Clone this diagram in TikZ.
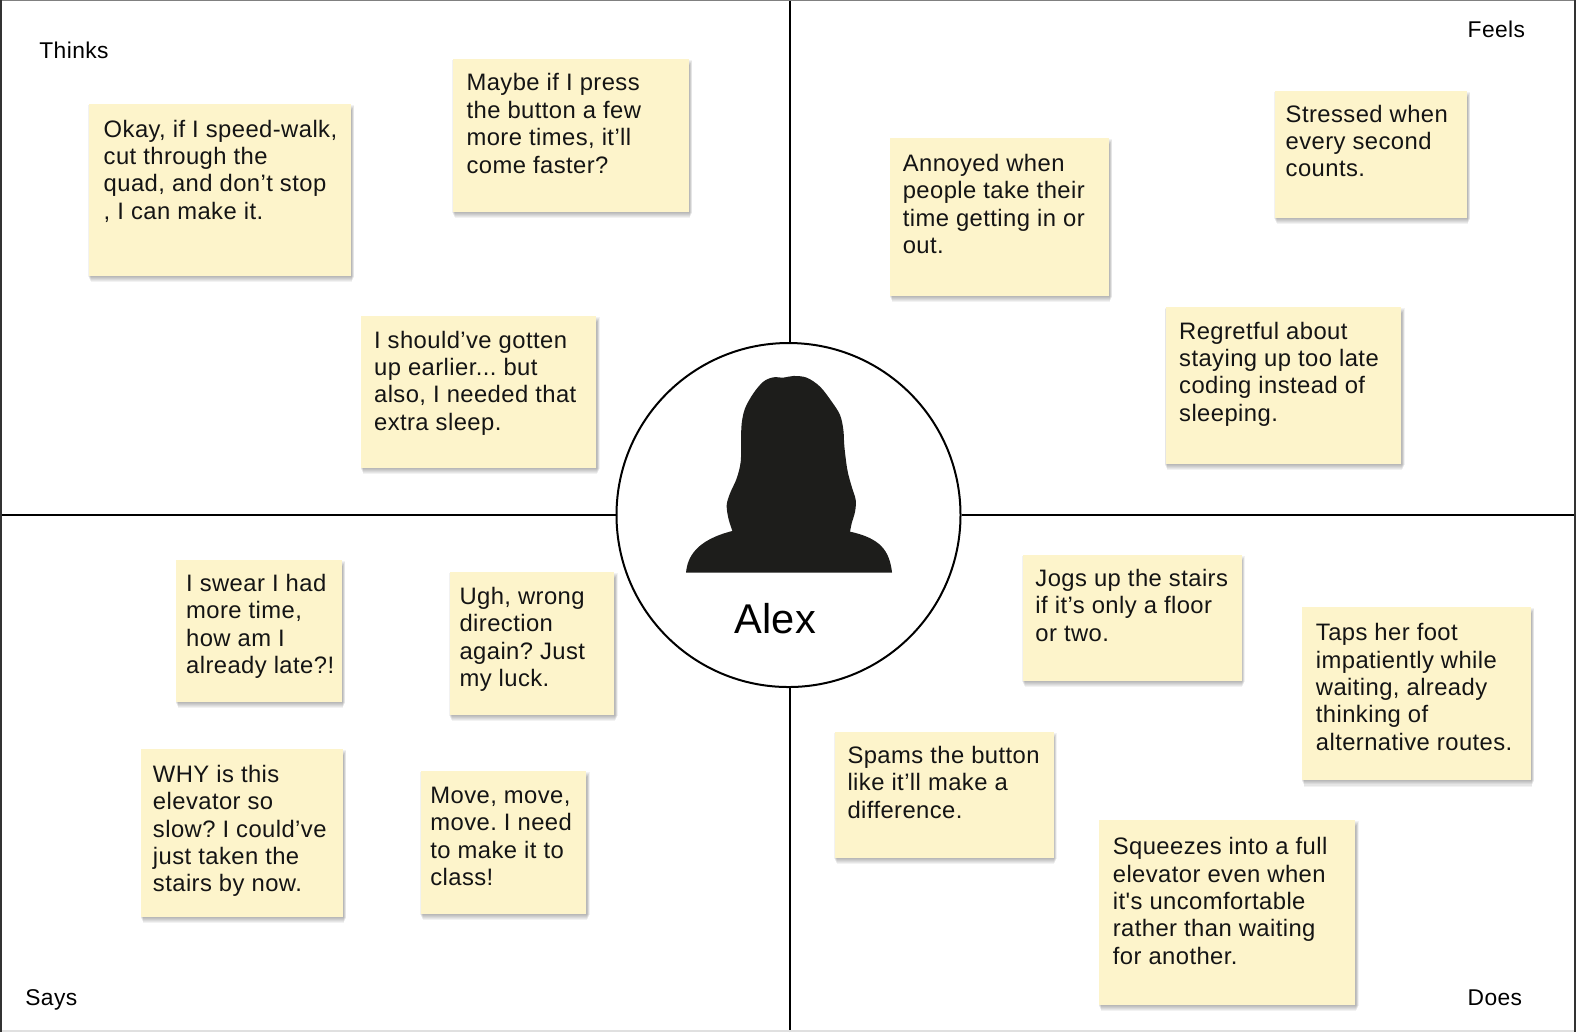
\documentclass[tikz,border=0pt]{standalone}
\usepackage{fontspec}
\setmainfont{Liberation Sans}
\newfontfamily\notefont[LetterSpace=1.8]{Liberation Sans}
\definecolor{notefill}{HTML}{FDF4CB}
\definecolor{silh}{HTML}{1D1D1B}
\tikzset{
  notebox/.style={draw=none,fill=notefill,inner sep=0pt,anchor=north west},
  notetext/.style={anchor=north west,inner sep=0pt,align=left,text=black!92,font=\notefont\frenchspacing\fontsize{23.8}{27.4}\selectfont},
  quadlabel/.style={anchor=base west,inner sep=0pt,font=\notefont\frenchspacing\fontsize{22.8}{27}\selectfont},
  rule/.style={line width=2pt,black},
}
% name x1 y1 x2 y2 textx firstlinecentre text
\newcommand{\stickynote}[8]{%
  \foreach \o/\e in {0.5/2,1.5/1.5,2.5/1,3.5/.5,4.5/0,5.5/-.5}{%
    \fill[black,opacity=.05] (#2+1.0-\e,#3+\o) rectangle (#4+.6+\e,#5+\o);}
  \pgfmathsetmacro{\nw}{(#4-#2-.4)*1.0051}%
  \pgfmathsetmacro{\nh}{(#5-#3)*1.0051}%
  \node[notebox,minimum width=\nw pt,minimum height=\nh pt] (#1) at (#2-.6,#3-.7) {};
  \node[notetext] (#1text) at (#6,#7-10.9) {\strut #8};
}
\begin{document}
\begin{tikzpicture}[x=1.0051pt,y=-1.0051pt]
\useasboundingbox (0,0) rectangle (1568,1026.8);
\fill[white] (0,0) rectangle (1568,1026.8);
\coordinate (top) at (786,0);
\coordinate (bottom) at (786,1026.8);
\coordinate (left) at (0,512.4);
\coordinate (right) at (1568,512.4);
\node[circle,draw=black,line width=2pt,fill=white,minimum size=344pt,inner sep=0pt] (hub) at (784.5,512.4) {};
\draw[rule] (top) -- (top |- hub.north);
\draw[rule] (bottom) -- (bottom |- hub.south);
\draw[rule] (left) -- (hub.west);
\draw[rule] (right) -- (hub.east);
\draw[black!50,line width=1.4pt] (0,.5) -- (1568,.5);
\draw[black!12,line width=1.6pt] (0,1026) -- (1568,1026);
\draw[black!80,line width=2pt] (1,0) -- (1,1026.8);
\draw[black!80,line width=2pt] (1567,0) -- (1567,1026.8);

\begin{scope}[shift={(597,328.3)},x=0.33333pt,y=-0.33333pt]
\fill[silh] (258,728) .. controls (262,680) and (290,630) .. (397,603)
  -- plot[smooth,tension=.55] coordinates {(397,603) (385,565) (380,525) (390,490) (410,445) (422,395) (423,330) (425,280) (435,235) (460,190) (490,155) (520,142) (550,143) (580,138) (620,143) (660,170) (695,215) (720,255) (730,300) (733,350) (742,420) (755,470) (767,510) (765,545) (755,580) (750,605)}
  .. controls (840,625) and (868,660) .. (876,728) -- cycle;
\end{scope}
\node[anchor=base west,inner sep=0pt,font=\fontsize{41.6}{48}\selectfont] (name) at (731,630) {Alex};

\node[quadlabel] (thinks) at (39,58) {Thinks};
\node[quadlabel] (feels) at (1460,37) {Feels};
\node[quadlabel] (says) at (25,1000) {Says};
\node[quadlabel] (does) at (1460,1000) {Does};

\stickynote{n1}{89}{104}{350}{275}{103}{128}{Okay, if I speed-walk,\\cut through the\\quad, and don’t stop\\, I can make it.}
\stickynote{n2}{451}{59}{686}{211}{464}{82}{Maybe if I press\\the button a few\\more times, it’ll\\come faster?}
\stickynote{n3}{360}{315}{594}{466}{372}{338}{I should’ve gotten\\up earlier... but\\also, I needed that\\extra sleep.}
\stickynote{n4}{886}{138}{1104}{295}{898}{162}{Annoyed when\\people take their\\time getting in or\\out.}
\stickynote{n5}{1269}{91}{1460}{217}{1279}{113}{Stressed when\\every second\\counts.}
\stickynote{n6}{1160}{306}{1395}{462}{1173}{329}{Regretful about\\staying up too late\\coding instead of\\sleeping.}
\stickynote{n7}{176}{558}{341}{699}{185}{580}{I swear I had\\more time,\\how am I\\already late?!}
\stickynote{n8}{448}{570}{612}{712}{457}{593}{Ugh, wrong\\direction\\again? Just\\my luck.}
\stickynote{n9}{141}{746}{342}{913}{152}{770}{WHY is this\\elevator so\\slow? I could’ve\\just taken the\\stairs by now.}
\stickynote{n10}{419}{768}{584}{910}{428}{791}{Move, move,\\move. I need\\to make it to\\class!}
\stickynote{n11}{1018}{553}{1236}{678}{1030}{575}{Jogs up the stairs\\if it’s only a floor\\or two.}
\stickynote{n12}{1296}{604}{1524}{777}{1309}{629}{Taps her foot\\impatiently while\\waiting, already\\thinking of\\alternative routes.}
\stickynote{n13}{831}{729}{1049}{854}{843}{751}{Spams the button\\like it’ll make a\\difference.}
\stickynote{n14}{1094}{816}{1349}{1000}{1107}{842}{Squeezes into a full\\elevator even when\\it's uncomfortable\\rather than waiting\\for another.}
\end{tikzpicture}
\end{document}
